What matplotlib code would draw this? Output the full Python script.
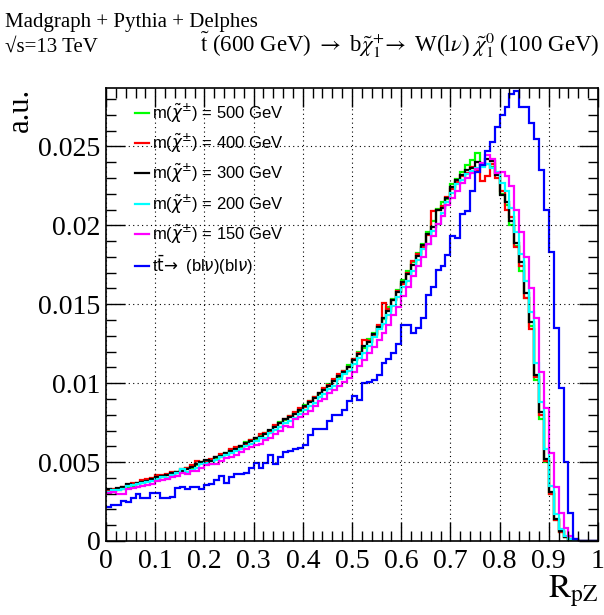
import numpy as np
import matplotlib
matplotlib.use("Agg")
import matplotlib.pyplot as plt
from matplotlib.font_manager import FontProperties
from matplotlib.ticker import MultipleLocator, FormatStrFormatter

# histogram binning: 100 bins of R_pZ between 0 and 1
nbins = 100
xlo, xhi = 0.0, 1.0

# bin contents, in units of 1e-3 (a.u.)
m500 = [3.20,3.15,3.30,3.30,3.45,3.50,3.60,3.70,3.85,3.90,
        4.00,4.05,4.20,4.25,4.35,4.50,4.60,4.65,4.80,4.95,
        5.05,5.15,5.25,5.35,5.60,5.75,5.90,5.95,6.25,6.40,
        6.45,6.70,6.85,7.00,7.30,7.55,7.65,7.90,8.10,8.25,
        8.60,8.90,9.10,9.30,9.65,9.95,10.20,10.40,10.80,11.15,
        11.50,11.95,12.25,12.80,13.20,13.60,14.05,14.80,15.35,15.90,
        16.55,17.10,17.70,18.25,18.80,19.55,20.30,21.05,21.45,21.65,
        22.60,22.95,23.35,23.80,24.15,24.60,23.80,23.90,23.70,23.30,
        22.00,21.30,20.00,18.70,17.10,15.40,13.60,10.20,7.70,5.00,
        2.95,1.30,0.55,0.25,0.09,0.03,0,0,0,0]

m400 = [3.15,3.30,3.25,3.45,3.55,3.70,3.65,3.85,3.90,4.00,
        4.20,4.15,4.25,4.35,4.30,4.55,4.65,4.80,5.10,5.00,
        5.05,5.20,5.35,5.50,5.50,5.80,5.95,6.00,6.15,6.40,
        6.55,6.75,6.85,7.00,7.35,7.50,7.75,7.95,8.15,8.40,
        8.50,8.85,9.15,9.35,9.70,9.90,10.25,10.55,10.75,11.00,
        11.50,11.90,12.75,12.70,13.05,13.70,15.10,14.70,15.30,15.85,
        16.30,17.00,17.75,18.20,18.60,19.40,20.90,21.00,21.25,21.80,
        22.30,22.75,23.10,23.30,23.70,23.50,22.80,23.10,23.90,23.00,
        22.20,21.00,20.50,18.60,17.40,15.40,13.40,10.40,8.00,5.10,
        3.00,1.35,0.60,0.26,0.10,0.03,0,0,0,0]

m300 = [3.30,3.25,3.35,3.40,3.60,3.55,3.70,3.75,3.80,3.95,
        4.05,4.10,4.15,4.30,4.40,4.45,4.55,4.70,4.85,5.00,
        5.15,5.10,5.30,5.40,5.55,5.70,5.85,6.05,6.20,6.35,
        6.50,6.60,6.80,7.05,7.25,7.45,7.70,7.85,8.05,8.30,
        8.55,8.80,9.05,9.40,9.55,9.85,10.15,10.45,10.70,11.05,
        11.45,11.85,12.35,12.60,13.10,13.55,14.15,14.60,15.25,15.75,
        16.40,16.90,17.50,18.05,18.75,19.45,19.90,20.95,21.10,21.75,
        22.40,22.85,23.20,23.50,23.65,24.00,23.80,24.20,24.10,23.20,
        21.90,21.50,20.30,18.90,17.70,15.70,13.90,10.50,8.20,5.20,
        3.10,1.40,0.62,0.28,0.10,0.04,0,0,0,0]

m200 = [3.10,3.20,3.25,3.30,3.50,3.55,3.60,3.70,3.75,3.80,
        3.95,4.05,4.00,4.15,4.30,4.55,4.40,4.50,4.65,4.85,
        4.95,4.90,5.15,5.35,5.45,5.55,5.70,5.85,6.05,6.15,
        6.35,6.50,6.55,6.85,7.05,7.20,7.50,7.60,7.80,8.05,
        8.30,8.55,8.75,9.10,9.30,9.65,9.85,10.25,10.55,10.80,
        11.20,11.60,11.90,12.35,12.90,13.40,13.75,14.35,14.90,15.45,
        16.10,16.50,17.10,17.80,18.50,18.80,19.65,20.10,20.80,21.45,
        22.05,22.60,22.90,23.25,23.45,23.60,23.70,23.90,23.65,23.40,
        22.70,22.20,21.10,19.60,18.20,16.50,14.50,11.30,8.80,5.80,
        3.50,1.70,0.75,0.32,0.12,0.04,0,0,0,0]

m150 = [3.05,3.10,3.00,2.95,3.30,3.35,3.45,3.50,3.55,3.60,
        3.80,3.85,3.95,4.05,4.10,4.30,4.25,4.45,4.45,4.65,
        4.80,4.85,4.90,5.10,5.25,5.35,5.45,5.65,5.80,5.95,
        6.10,6.15,6.40,6.55,6.80,6.95,7.30,7.20,7.70,7.85,
        8.05,8.25,8.55,8.85,9.00,9.40,9.55,9.80,10.10,10.35,
        10.70,11.10,11.45,11.90,12.30,12.75,13.20,13.70,14.35,14.85,
        15.50,16.10,16.80,17.40,18.00,18.80,19.30,20.10,20.60,21.30,
        21.70,22.20,22.70,23.00,23.30,23.55,23.95,24.45,24.20,23.30,
        23.40,23.10,22.50,21.00,19.60,18.00,16.00,14.10,10.70,8.45,
        5.60,3.40,1.80,0.85,0.30,0.10,0.03,0,0,0]

ttbar = [2.15,2.25,2.30,2.55,2.45,2.70,3.00,2.75,2.70,3.05,
         3.05,2.70,2.70,2.80,3.35,3.40,3.30,3.45,3.40,3.30,
         3.55,3.60,3.85,4.10,3.70,4.05,4.25,4.25,4.30,4.65,
         4.95,4.60,4.95,5.45,4.85,5.30,5.65,5.70,5.85,5.90,
         6.10,6.70,7.10,7.10,7.10,7.60,8.00,8.00,8.30,8.85,
         9.20,8.95,10.00,10.10,10.20,10.50,11.30,11.50,11.90,12.50,
         13.70,13.70,13.20,13.50,14.10,15.60,16.10,17.20,17.40,18.10,
         19.30,19.20,20.70,20.90,22.20,23.40,23.80,24.70,25.30,26.20,
         27.00,27.50,28.30,28.50,27.50,27.50,26.50,25.50,23.50,21.00,
         18.30,13.50,9.70,5.00,1.80,0.15,0,0,0,0]

labels = [r"m($\tilde{\chi}^{\pm}$) = 500 GeV",
          r"m($\tilde{\chi}^{\pm}$) = 400 GeV",
          r"m($\tilde{\chi}^{\pm}$) = 300 GeV",
          r"m($\tilde{\chi}^{\pm}$) = 200 GeV",
          r"m($\tilde{\chi}^{\pm}$) = 150 GeV",
          r"t$\bar{\mathrm{t}}\!\rightarrow$ (bl$\nu$)(bl$\nu$)"]
series = [m500, m400, m300, m200, m150, ttbar]
colors = ["#00ff00", "#ff0000", "#000000", "#00ffff", "#ff00ff", "#0000ff"]

plt.rcParams["font.family"] = ["Liberation Serif", "DejaVu Serif"]
plt.rcParams["mathtext.fontset"] = "stix"

fig = plt.figure(figsize=(6.04, 6.15), dpi=100)
ax = fig.add_axes([106/604, 74/615, 492/604, 453/615])

edges = np.linspace(xlo, xhi, nbins + 1)
for vals, col, lab in zip(series, colors, labels):
    ax.stairs(np.array(vals) * 1e-3, edges, color=col, lw=1.6, label=lab, baseline=None)

ax.set_xlim(0, 1)
ax.set_ylim(0, 0.0287)
ax.xaxis.set_major_locator(MultipleLocator(0.1))
ax.xaxis.set_minor_locator(MultipleLocator(0.02))
ax.yaxis.set_major_locator(MultipleLocator(0.005))
ax.yaxis.set_minor_locator(MultipleLocator(0.001))
ax.xaxis.set_major_formatter(FormatStrFormatter("%g"))
ax.yaxis.set_major_formatter(FormatStrFormatter("%g"))
ax.tick_params(which="both", direction="in", top=True, right=True, width=1, labelsize=20)
ax.tick_params(which="major", length=14, pad=4)
ax.tick_params(which="minor", length=7)
ax.tick_params(axis="x", pad=6)
ax.grid(True, which="major", ls=(0, (1, 3)), color="black", lw=0.8)
for s in ax.spines.values():
    s.set_linewidth(1.2)

legfont = FontProperties(family=["Liberation Sans", "DejaVu Sans"], size=12,
                         math_fontfamily="dejavusans")
leg = ax.legend(loc="upper left", bbox_to_anchor=(0.058, 0.97), frameon=False,
                prop=legfont, handlelength=0.85, handletextpad=0.2,
                labelspacing=0.42, borderpad=0, borderaxespad=0)

fig.text(0.033, 1 - 88/615, "a.u.", rotation=90, ha="center", va="top", fontsize=22)
fig.text(598/604, 6/615, r"$\mathrm{R}_{\mathrm{pZ}}$", ha="right", va="bottom", fontsize=24)

fig.text(5/604, 1 - 27/615, "Madgraph + Pythia + Delphes", ha="left", va="baseline", fontsize=15)
fig.text(5/604, 1 - 52/615, "\u221as=13 TeV", ha="left", va="baseline", fontsize=15)
fig.text(200/604, 1 - 52/615,
         r"$\tilde{\mathrm{t}}$ (600 GeV) $\rightarrow$ b$\tilde{\chi}_{1}^{+}\!\rightarrow$ W(l$\nu$) $\tilde{\chi}_{1}^{0}$ (100 GeV)",
         ha="left", va="baseline", fontsize=16.5)

fig.savefig("out.png", dpi=100)
